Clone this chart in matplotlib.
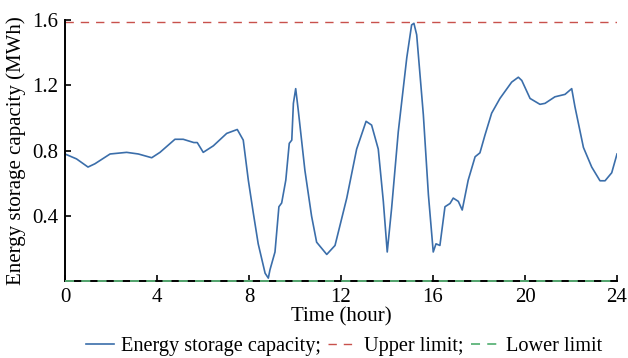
import matplotlib
matplotlib.use("Agg")
import matplotlib.pyplot as plt

# hours and stored energy (MWh)
hours = [0.0, 0.5, 1.0, 1.3, 1.96, 2.68, 3.19, 3.77, 4.13, 4.78, 5.14, 5.6, 5.75,
         6.01, 6.45, 7.03, 7.49, 7.75, 7.97, 8.19, 8.4, 8.7, 8.84, 8.91, 8.99,
         9.13, 9.3, 9.42, 9.6, 9.75, 9.86, 9.93, 10.03, 10.14, 10.43, 10.72,
         10.94, 11.38, 11.74, 12.25, 12.68, 13.09, 13.33, 13.62, 13.84, 14.01,
         14.2, 14.49, 14.86, 15.07, 15.17, 15.29, 15.58, 15.8, 16.01, 16.13,
         16.3, 16.52, 16.74, 16.88, 17.1, 17.27, 17.53, 17.83, 18.04, 18.26,
         18.55, 18.91, 19.42, 19.71, 19.86, 20.22, 20.65, 20.87, 21.3, 21.74,
         22.03, 22.17, 22.54, 22.9, 23.26, 23.48, 23.77, 24.0]
capacity = [0.78, 0.75, 0.70, 0.72, 0.78, 0.79, 0.78, 0.757, 0.79, 0.87, 0.87,
            0.85, 0.85, 0.79, 0.83, 0.906, 0.93, 0.865, 0.62, 0.416, 0.23, 0.05,
            0.02, 0.07, 0.11, 0.18, 0.457, 0.48, 0.62, 0.845, 0.865, 1.09, 1.18,
            1.05, 0.68, 0.40, 0.24, 0.165, 0.22, 0.51, 0.81, 0.98, 0.957, 0.81,
            0.49, 0.18, 0.447, 0.916, 1.37, 1.57, 1.58, 1.51, 1.02, 0.53, 0.18,
            0.23, 0.22, 0.457, 0.477, 0.51, 0.49, 0.437, 0.62, 0.763, 0.787,
            0.896, 1.03, 1.12, 1.22, 1.25, 1.23, 1.12, 1.084, 1.09, 1.13, 1.145,
            1.18, 1.07, 0.82, 0.70, 0.616, 0.616, 0.665, 0.78]

upper_limit = 1.59
lower_limit = 0.0
x_ticks = [0, 4, 8, 12, 16, 20, 24]
y_ticks = [0.4, 0.8, 1.2, 1.6]

plt.rcParams["font.family"] = ["Liberation Serif", "DejaVu Serif"]
plt.rcParams["font.size"] = 15

fig = plt.figure(figsize=(6.28, 3.58), dpi=100)
ax = fig.add_axes([0.1035, 0.214, 0.879, 0.73])

ax.plot(hours, capacity, color="#3b6eaa", lw=1.2, label="Energy storage capacity;")
ax.axhline(upper_limit, color="#c8514c", lw=1.0, ls=(0, (6, 5)), label="Upper limit;")
ax.axhline(lower_limit, color="#5db47a", lw=1.3, ls=(0, (5, 4)), label="Lower limit",
           zorder=5, clip_on=False)

ax.set_xlim(0, 24)
ax.set_ylim(0, 1.6)
ax.set_xticks(x_ticks)
ax.set_yticks(y_ticks)
ax.set_yticklabels([f"{v:.1f}" for v in y_ticks])
ax.tick_params(direction="in", length=4, width=1.2, pad=5)
for side in ["top", "right"]:
    ax.spines[side].set_visible(False)
for side in ["left", "bottom"]:
    ax.spines[side].set_linewidth(1.4)

ax.set_xlabel("Time (hour)", labelpad=0)
ax.set_ylabel("Energy storage capacity (MWh)", labelpad=4)

fig.legend(loc="center", bbox_to_anchor=(0.548, 0.033), ncol=3, frameon=False,
           fontsize=14.6, handlelength=1.4, handletextpad=0.35, columnspacing=0.35)

fig.savefig("out.png", dpi=100)
